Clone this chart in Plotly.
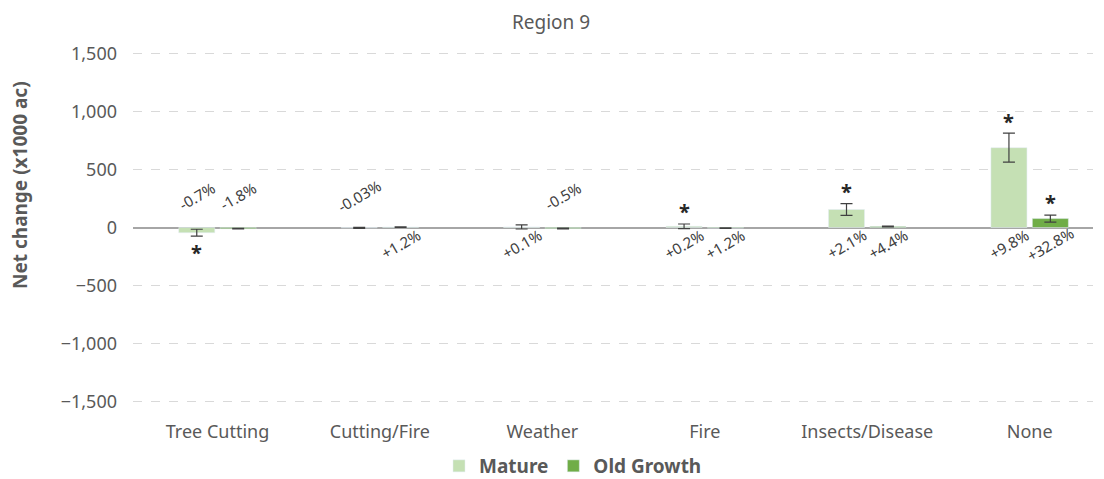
import plotly.graph_objects as go

categories = ["Tree Cutting", "Cutting/Fire", "Weather", "Fire", "Insects/Disease", "None"]
mature = [-45, -3, 5, 10, 155, 688]
mature_err = [30, 4, 18, 20, 50, 125]
old_growth = [-10, 3, -8, -5, 8, 77]
old_err = [3, 2, 3, 2, 3, 30]
mature_pct = ["-0.7%", "-0.03%", "+0.1%", "+0.2%", "+2.1%", "+9.8%"]
old_pct = ["-1.8%", "+1.2%", "-0.5%", "+1.2%", "+4.4%", "+32.8%"]
mature_pct_side = ["above", "above", "below", "below", "below", "below"]
old_pct_side = ["above", "below", "above", "below", "below", "below"]
mature_sig = [True, False, False, True, True, True]
old_sig = [False, False, False, False, False, True]
y_ticks = [-1500, -1000, -500, 0, 500, 1000, 1500]

MATURE_C = "#C5E0B4"
OLD_C = "#70AD47"
TXT = "#595959"
FONT = "Noto Sans"

# page body has an 8px margin; figure sized/positioned to compensate
W, H = 1096, 471
L, R, T, B = 125, 11, 42, 74

fig = go.Figure()
fig.add_trace(go.Bar(x=categories, y=mature, name="<b>Mature</b>", marker_color=MATURE_C,
                     error_y=dict(type="data", array=mature_err, color="#404040", thickness=1.2, width=6)))
fig.add_trace(go.Bar(x=categories, y=old_growth, name="<b>Old Growth</b>", marker_color=OLD_C,
                     error_y=dict(type="data", array=old_err, color="#404040", thickness=1.2, width=6)))

bargap = 0.49
off = (1 - bargap) / 4
ann = []
for i in range(len(categories)):
    for vals, errs, pcts, sides, sig, sgn in [
        (mature, mature_err, mature_pct, mature_pct_side, mature_sig, -1),
        (old_growth, old_err, old_pct, old_pct_side, old_sig, 1)]:
        xi = i + sgn * off
        ypos = 268 if sides[i] == "above" else -145
        ann.append(dict(x=xi, y=ypos, xref="x", yref="y", text=pcts[i], showarrow=False,
                        textangle=-30, font=dict(family=FONT, size=15, color="#404040")))
        if sig[i]:
            if vals[i] < 0:
                ys = vals[i] - errs[i] - 140
            else:
                ys = vals[i] + errs[i] + 105
            ann.append(dict(x=xi, y=ys, xref="x", yref="y", text="<b>*</b>", showarrow=False,
                            font=dict(family=FONT, size=20, color="#262626")))

pw, ph = W - L - R, H - T - B
ann.append(dict(x=(12 - L) / pw, y=(H - B - 177) / ph, xref="paper", yref="paper",
                text="<b>Net change (x1000 ac)</b>", textangle=-90, showarrow=False,
                xanchor="center", yanchor="middle",
                font=dict(family=FONT, size=19, color=TXT)))

fig.update_layout(
    width=W, height=H,
    margin=dict(l=L, r=R, t=T, b=B, autoexpand=False),
    plot_bgcolor="white", paper_bgcolor="white",
    barmode="group", bargap=bargap, bargroupgap=0.13,
    title=dict(text="Region 9", xref="container", x=543 / W, xanchor="center", y=1 - 14 / H,
               yanchor="middle", font=dict(family=FONT, size=19, color=TXT)),
    font=dict(family=FONT, color=TXT),
    legend=dict(orientation="h", xref="container", x=565 / W, xanchor="center", yref="container",
                y=1 - 458 / H, yanchor="middle",
                font=dict(family=FONT, size=19, color=TXT), itemwidth=30, traceorder="normal"),
    annotations=ann,
)
fig.update_yaxes(range=[-1530, 1530], tickvals=y_ticks,
                 tickformat=",", showgrid=True, gridcolor="#D9D9D9", griddash="dash",
                 zeroline=True, zerolinecolor="#A6A6A6", zerolinewidth=1.5,
                 tickfont=dict(family=FONT, size=18, color=TXT), ticklabelstandoff=15)
fig.update_xaxes(range=[-0.52, 5.39], showgrid=False, tickfont=dict(family=FONT, size=18, color=TXT),
                 ticklabelstandoff=14, showline=False)

fig.write_html("out.html")
